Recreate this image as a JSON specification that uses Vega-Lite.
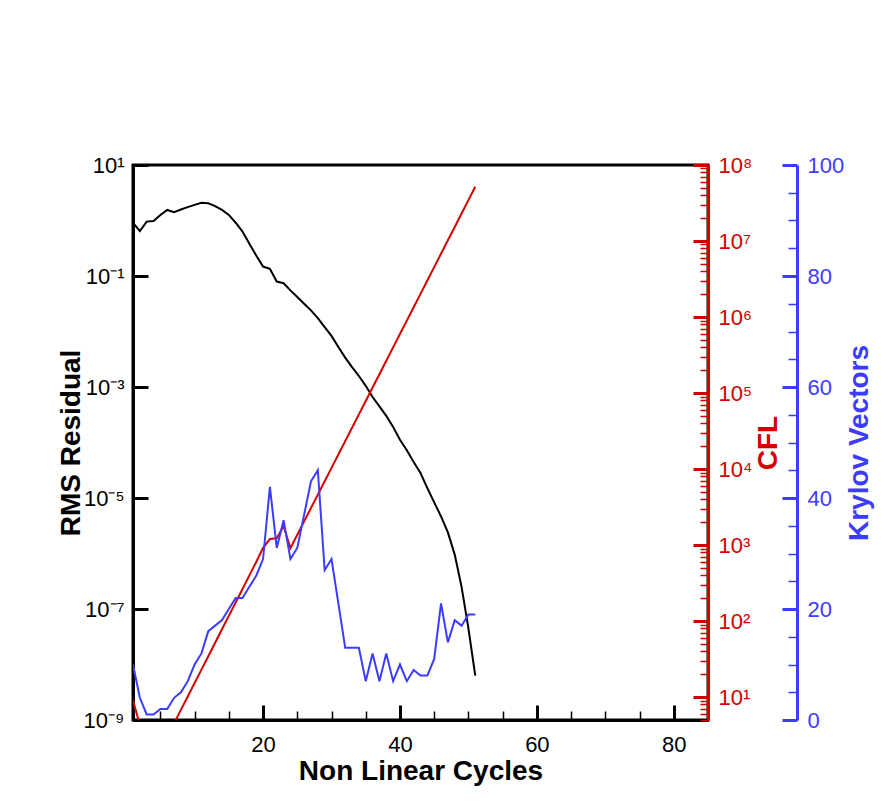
{
  "$schema": "https://vega.github.io/schema/vega-lite/v6.json",
  "width": 575,
  "height": 555,
  "autosize": "none",
  "padding": {"left": 133, "top": 165, "right": 185, "bottom": 85},
  "background": "white",
  "config": {
    "view": {"stroke": "black", "strokeWidth": 3},
    "axis": {
      "labelFont": "Liberation Sans",
      "titleFont": "Liberation Sans",
      "labelFontSize": 22,
      "titleFontSize": 28,
      "titleFontWeight": "bold",
      "grid": false,
      "domainWidth": 3,
      "tickWidth": 3
    }
  },
  "data": {
    "values": [
      {"c": 1, "rms": 0.912, "cfl": 9.1, "kry": 10},
      {"c": 2, "rms": 0.646, "cfl": 4.3, "kry": 4},
      {"c": 3, "rms": 0.955, "cfl": 3.0, "kry": 1},
      {"c": 4, "rms": 0.977, "cfl": 2.5, "kry": 1},
      {"c": 5, "rms": 1.26, "cfl": 2.8, "kry": 2},
      {"c": 6, "rms": 1.55, "cfl": 3.2, "kry": 2},
      {"c": 7, "rms": 1.41, "cfl": 4.5, "kry": 4},
      {"c": 8, "rms": 1.58, "cfl": 6.8, "kry": 5},
      {"c": 9, "rms": 1.74, "cfl": 10.2, "kry": 7},
      {"c": 10, "rms": 1.91, "cfl": 15.3, "kry": 10},
      {"c": 11, "rms": 2.09, "cfl": 23, "kry": 12},
      {"c": 12, "rms": 2.04, "cfl": 34.5, "kry": 16},
      {"c": 13, "rms": 1.82, "cfl": 52, "kry": 17},
      {"c": 14, "rms": 1.55, "cfl": 78, "kry": 18},
      {"c": 15, "rms": 1.26, "cfl": 117, "kry": 20},
      {"c": 16, "rms": 0.912, "cfl": 176, "kry": 22},
      {"c": 17, "rms": 0.631, "cfl": 265, "kry": 22},
      {"c": 18, "rms": 0.38, "cfl": 400, "kry": 24},
      {"c": 19, "rms": 0.234, "cfl": 600, "kry": 26},
      {"c": 20, "rms": 0.148, "cfl": 920, "kry": 29},
      {"c": 21, "rms": 0.135, "cfl": 1200, "kry": 42},
      {"c": 22, "rms": 0.0794, "cfl": 1230, "kry": 31},
      {"c": 23, "rms": 0.0741, "cfl": 1780, "kry": 36},
      {"c": 24, "rms": 0.055, "cfl": 910, "kry": 29},
      {"c": 25, "rms": 0.0417, "cfl": 1365, "kry": 31},
      {"c": 26, "rms": 0.0316, "cfl": 2048, "kry": 37},
      {"c": 27, "rms": 0.024, "cfl": 3071, "kry": 43},
      {"c": 28, "rms": 0.0174, "cfl": 4607, "kry": 45},
      {"c": 29, "rms": 0.012, "cfl": 6911, "kry": 27},
      {"c": 30, "rms": 0.00832, "cfl": 10366, "kry": 29},
      {"c": 31, "rms": 0.00525, "cfl": 15549, "kry": 21},
      {"c": 32, "rms": 0.00339, "cfl": 23324, "kry": 13},
      {"c": 33, "rms": 0.00229, "cfl": 34986, "kry": 13},
      {"c": 34, "rms": 0.00158, "cfl": 52479, "kry": 13},
      {"c": 35, "rms": 0.00105, "cfl": 78718, "kry": 7},
      {"c": 36, "rms": 0.000661, "cfl": 118078, "kry": 12},
      {"c": 37, "rms": 0.000447, "cfl": 177117, "kry": 7},
      {"c": 38, "rms": 0.000302, "cfl": 265675, "kry": 12},
      {"c": 39, "rms": 0.000191, "cfl": 398513, "kry": 7},
      {"c": 40, "rms": 0.000112, "cfl": 597770, "kry": 10},
      {"c": 41, "rms": 7.24e-5, "cfl": 896655, "kry": 7},
      {"c": 42, "rms": 4.47e-5, "cfl": 1344982, "kry": 9},
      {"c": 43, "rms": 2.82e-5, "cfl": 2017473, "kry": 8},
      {"c": 44, "rms": 1.51e-5, "cfl": 3026210, "kry": 8},
      {"c": 45, "rms": 8.32e-6, "cfl": 4539315, "kry": 11},
      {"c": 46, "rms": 4.68e-6, "cfl": 6808972, "kry": 21},
      {"c": 47, "rms": 2.4e-6, "cfl": 10213459, "kry": 14},
      {"c": 48, "rms": 9.55e-7, "cfl": 15320188, "kry": 18},
      {"c": 49, "rms": 2.51e-7, "cfl": 22980282, "kry": 17},
      {"c": 50, "rms": 4.47e-8, "cfl": 34470423, "kry": 19},
      {"c": 51, "rms": 6.31e-9, "cfl": 51705635, "kry": 19}
    ]
  },
  "layer": [
    {
      "mark": {"type": "line", "color": "black", "strokeWidth": 2, "clip": true},
      "encoding": {
        "x": {
          "field": "c", "type": "quantitative",
          "scale": {"domain": [1, 85], "nice": false, "zero": false},
          "axis": {
            "orient": "bottom", "values": [20, 40, 60, 80], "tickSize": -15,
            "labelPadding": 29, "domainColor": "black", "tickColor": "black",
            "labelColor": "black", "title": "Non Linear Cycles", "titleColor": "black",
            "titlePadding": 2
          }
        },
        "y": {
          "field": "rms", "type": "quantitative",
          "scale": {"type": "log", "domain": [1e-9, 10], "nice": false},
          "axis": {
            "orient": "left", "values": [10, 0.1, 0.001, 1e-5, 1e-7, 1e-9],
            "tickSize": -15, "labelPadding": 24,
            "labelExpr": "'10' + (datum.value < 1 ? '⁻' : '') + ['⁰','¹','²','³','⁴','⁵','⁶','⁷','⁸','⁹'][abs(round(log(datum.value)/LN10))]",
            "domainColor": "black", "tickColor": "black", "labelColor": "black",
            "title": "RMS Residual", "titleColor": "black", "titlePadding": -2
          }
        }
      }
    },
    {
      "mark": {"type": "line", "color": "#d40000", "strokeWidth": 2, "clip": true},
      "encoding": {
        "x": {"field": "c", "type": "quantitative", "scale": {"domain": [1, 85], "nice": false, "zero": false}, "axis": null},
        "y": {
          "field": "cfl", "type": "quantitative",
          "scale": {"type": "log", "domain": [5, 100000000], "nice": false},
          "axis": {
            "orient": "right", "values": [10, 100, 1000, 10000, 100000, 1000000, 10000000, 100000000],
            "tickSize": -15, "labelPadding": 25,
            "labelExpr": "'10' + ['⁰','¹','²','³','⁴','⁵','⁶','⁷','⁸','⁹'][round(log(datum.value)/LN10)]",
            "domainColor": "#d40000", "tickColor": "#d40000", "labelColor": "#d40000",
            "title": "CFL", "titleColor": "#d40000", "titleAngle": 270, "titleBaseline": "top", "titlePadding": 3
          }
        }
      }
    },
    {
      "mark": {"type": "line", "color": "#3c3cff", "strokeWidth": 2, "clip": true},
      "encoding": {
        "x": {"field": "c", "type": "quantitative", "scale": {"domain": [1, 85], "nice": false, "zero": false}, "axis": null},
        "y": {
          "field": "kry", "type": "quantitative",
          "scale": {"domain": [0, 100], "nice": false},
          "axis": {
            "orient": "right", "offset": 89, "values": [0, 20, 40, 60, 80, 100],
            "tickSize": -15, "labelPadding": 25,
            "domainColor": "#3c3cff", "tickColor": "#3c3cff", "labelColor": "#3c3cff",
            "title": "Krylov Vectors", "titleColor": "#3c3cff", "titleAngle": 270, "titleBaseline": "top", "titlePadding": 2
          }
        }
      }
    },
    {
      "mark": {"type": "line", "strokeOpacity": 0, "clip": true},
      "encoding": {
        "x": {
          "field": "c", "type": "quantitative",
          "scale": {"domain": [1, 85], "nice": false, "zero": false},
          "axis": {
            "orient": "bottom", "values": [5, 10, 15, 25, 30, 35, 45, 50, 55, 65, 70, 75],
            "tickSize": -9, "tickWidth": 1.5, "tickColor": "black", "domain": false, "labels": false, "title": null
          }
        },
        "y": {
          "field": "cfl", "type": "quantitative",
          "scale": {"type": "log", "domain": [5, 100000000], "nice": false},
          "axis": {
            "orient": "right",
            "values": [5, 6, 7, 8, 9, 20, 30, 40, 50, 60, 70, 80, 90, 200, 300, 400, 500, 600, 700, 800, 900, 2000, 3000, 4000, 5000, 6000, 7000, 8000, 9000, 20000, 30000, 40000, 50000, 60000, 70000, 80000, 90000, 200000, 300000, 400000, 500000, 600000, 700000, 800000, 900000, 2000000, 3000000, 4000000, 5000000, 6000000, 7000000, 8000000, 9000000, 20000000, 30000000, 40000000, 50000000, 60000000, 70000000, 80000000, 90000000],
            "tickSize": -8, "tickWidth": 1.5, "tickColor": "#d40000", "domain": false, "labels": false, "title": null
          }
        }
      }
    },
    {
      "mark": {"type": "line", "strokeOpacity": 0, "clip": true},
      "encoding": {
        "x": {"field": "c", "type": "quantitative", "scale": {"domain": [1, 85], "nice": false, "zero": false}, "axis": null},
        "y": {
          "field": "kry", "type": "quantitative",
          "scale": {"domain": [0, 100], "nice": false},
          "axis": {
            "orient": "right", "offset": 89,
            "values": [5, 10, 15, 25, 30, 35, 45, 50, 55, 65, 70, 75, 85, 90, 95],
            "tickSize": -9, "tickWidth": 1.5, "tickColor": "#3c3cff", "domain": false, "labels": false, "title": null
          }
        }
      }
    }
  ],
  "resolve": {"scale": {"y": "independent"}, "axis": {"x": "independent", "y": "independent"}}
}
